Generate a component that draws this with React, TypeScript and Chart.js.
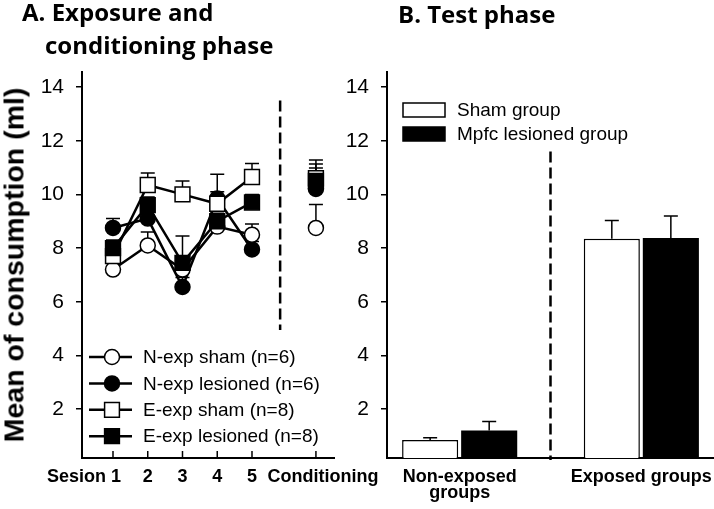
import React, { useEffect, useRef } from "react";
import { Chart, registerables } from "chart.js";
Chart.register(...registerables);

const ARIAL = '"Liberation Sans", Arial, sans-serif';
const TITLE_FONT = '"Open Sans", Lato, sans-serif';

// ---------- Panel A data ----------
const sessionPositions = [1, 2, 3, 4, 5];
const conditioningPosition = 6.84;
const panelATickPositions = [1, 2, 3, 4, 5, 6.84];
const panelATickLabels = ["Sesion 1", "2", "3", "4", "5", "Conditioning"];
const yTickValues = [2, 4, 6, 8, 10, 12, 14];
const yMin = 0.18;
const yMax = 14.56;

const groupLabels = [
  "N-exp sham (n=6)",
  "N-exp lesioned (n=6)",
  "E-exp sham (n=8)",
  "E-exp lesioned (n=8)",
];
const nExpShamMeans = [7.2, 8.1, 7.2, 8.8, 8.5];
const nExpShamSem = [0.25, 0.5, 0.3, 0.25, 0.4];
const nExpLesionedMeans = [8.75, 9.1, 6.55, 9.85, 7.95];
const nExpLesionedSem = [0.35, 0.3, 0.35, 0.25, 0.3];
const eExpShamMeans = [7.7, 10.35, 10.0, 9.65, 10.65];
const eExpShamSem = [0.3, 0.45, 0.5, 1.1, 0.5];
const eExpLesionedMeans = [8.0, 9.6, 7.45, 9.0, 9.7];
const eExpLesionedSem = [0.3, 0.3, 1.0, 0.3, 0.3];
// conditioning values, in groupLabels order
const conditioningMeans = [8.75, 10.2, 10.6, 10.5];
const conditioningSem = [0.87, 0.78, 0.68, 0.63];
const panelADividerX = 5.81;
const panelADividerRange = [4.95, 13.5];

// ---------- Panel B data ----------
const testPositions = [0, 1];
const testLabels = [["Non-exposed", "groups"], ["Exposed groups"]];
const testSeriesLabels = ["Sham group", "Mpfc lesioned group"];
const shamMeans = [0.85, 8.35];
const shamSem = [0.08, 0.68];
const lesionedMeans = [1.2, 8.38];
const lesionedSem = [0.34, 0.82];
const panelBDividerX = 0.5;
const panelBDividerTop = 11.6;

type Group = {
  label: string;
  means: number[];
  sem: number[];
  cond: number;
  condSem: number;
  style: "circle" | "rect";
  fill: string;
};

const groups: Group[] = [
  { label: groupLabels[0], means: nExpShamMeans, sem: nExpShamSem, cond: conditioningMeans[0], condSem: conditioningSem[0], style: "circle", fill: "#ffffff" },
  { label: groupLabels[1], means: nExpLesionedMeans, sem: nExpLesionedSem, cond: conditioningMeans[1], condSem: conditioningSem[1], style: "circle", fill: "#000000" },
  { label: groupLabels[2], means: eExpShamMeans, sem: eExpShamSem, cond: conditioningMeans[2], condSem: conditioningSem[2], style: "rect", fill: "#ffffff" },
  { label: groupLabels[3], means: eExpLesionedMeans, sem: eExpLesionedSem, cond: conditioningMeans[3], condSem: conditioningSem[3], style: "rect", fill: "#000000" },
];
// drawing order: top-most first
const drawOrder = [3, 2, 0, 1];
const condDrawOrder = [1, 3, 2, 0];

const radiusFor = (s: string) => (s === "circle" ? 7.5 : 10.5);

function errorBar(ctx: CanvasRenderingContext2D, x: number, y0: number, y1: number, cap: number) {
  ctx.beginPath();
  ctx.moveTo(x, y0);
  ctx.lineTo(x, y1);
  ctx.moveTo(x - cap / 2, y1);
  ctx.lineTo(x + cap / 2, y1);
  ctx.stroke();
}

function dashed(ctx: CanvasRenderingContext2D, x: number, y0: number, y1: number) {
  ctx.save();
  ctx.strokeStyle = "#000";
  ctx.lineWidth = 2.5;
  ctx.setLineDash([11, 5]);
  ctx.beginPath();
  ctx.moveTo(x, y0);
  ctx.lineTo(x, y1);
  ctx.stroke();
  ctx.restore();
}

const yAxisCommon = (width: number) => ({
  type: "linear" as const,
  min: yMin,
  max: yMax,
  beginAtZero: false,
  afterFit: (s: any) => {
    s.width = width;
  },
  afterBuildTicks: (s: any) => {
    s.ticks = yTickValues.map((v) => ({ value: v }));
  },
  grid: { drawOnChartArea: false, drawTicks: true, tickLength: 6, color: "#000", lineWidth: 1.5 },
  border: { display: true, color: "#000", width: 2 },
  ticks: { color: "#000", font: { family: ARIAL, size: 21 }, padding: 12 },
});

function PanelA() {
  const ref = useRef<HTMLCanvasElement>(null);
  useEffect(() => {
    const datasets: any[] = [];
    drawOrder.forEach((gi) => {
      const g = groups[gi];
      datasets.push({
        label: g.label,
        data: sessionPositions.map((x, i) => ({ x, y: g.means[i] })),
        showLine: true,
        borderColor: "#000",
        borderWidth: 2.5,
        pointStyle: g.style,
        pointRadius: radiusFor(g.style),
        pointBackgroundColor: g.fill,
        pointBorderColor: "#000",
        pointBorderWidth: 1.5,
        clip: false,
      });
    });
    condDrawOrder.forEach((gi) => {
      const g = groups[gi];
      datasets.push({
        label: g.label + " conditioning",
        data: [{ x: conditioningPosition, y: g.cond }],
        showLine: false,
        pointStyle: g.style,
        pointRadius: radiusFor(g.style),
        pointBackgroundColor: g.fill,
        pointBorderColor: "#000",
        pointBorderWidth: 1.5,
        clip: false,
      });
    });

    const decor = {
      id: "decorA",
      beforeDatasetsDraw(chart: any) {
        const { ctx, scales } = chart;
        const x = scales.x;
        const y = scales.y;
        ctx.save();
        ctx.strokeStyle = "#000";
        ctx.lineWidth = 1.5;
        groups.forEach((g) => {
          g.means.forEach((m, i) => {
            errorBar(ctx, x.getPixelForValue(sessionPositions[i]), y.getPixelForValue(m), y.getPixelForValue(m + g.sem[i]), 14);
          });
          errorBar(ctx, x.getPixelForValue(conditioningPosition), y.getPixelForValue(g.cond), y.getPixelForValue(g.cond + g.condSem), 14);
        });
        ctx.restore();
        dashed(ctx, x.getPixelForValue(panelADividerX), y.getPixelForValue(panelADividerRange[1]), y.getPixelForValue(panelADividerRange[0]));
      },
      afterDraw(chart: any) {
        const { ctx, scales, chartArea } = chart;
        const x = scales.x;
        ctx.save();
        // inner tick marks on x axis
        ctx.strokeStyle = "#000";
        ctx.lineWidth = 1.5;
        panelATickPositions.forEach((p) => {
          const px = x.getPixelForValue(p);
          ctx.beginPath();
          ctx.moveTo(px, chartArea.bottom);
          ctx.lineTo(px, chartArea.bottom - 7);
          ctx.stroke();
        });
        // x labels
        ctx.fillStyle = "#000";
        ctx.font = `bold 18px ${ARIAL}`;
        ctx.textBaseline = "alphabetic";
        panelATickLabels.forEach((lab, i) => {
          const px = x.getPixelForValue(panelATickPositions[i]);
          if (i === 0) {
            const last = ctx.measureText(lab.slice(-1)).width;
            ctx.textAlign = "right";
            ctx.fillText(lab, px + last / 2 + 3, chartArea.bottom + 24);
          } else {
            ctx.textAlign = "center";
            ctx.fillText(lab, px + (i === panelATickLabels.length - 1 ? 7 : 0), chartArea.bottom + 24);
          }
        });
        // legend
        ctx.font = `19px ${ARIAL}`;
        ctx.textAlign = "left";
        ctx.textBaseline = "middle";
        const lx0 = chartArea.left + 7;
        const lx1 = chartArea.left + 50;
        const mx = chartArea.left + 30;
        groups.forEach((g, i) => {
          const ly = 357 + i * 26.4;
          ctx.strokeStyle = "#000";
          ctx.lineWidth = 2.5;
          ctx.beginPath();
          ctx.moveTo(lx0, ly);
          ctx.lineTo(lx1, ly);
          ctx.stroke();
          ctx.fillStyle = g.fill;
          ctx.lineWidth = 1.5;
          ctx.beginPath();
          if (g.style === "circle") {
            ctx.arc(mx, ly, 7.5, 0, Math.PI * 2);
          } else {
            ctx.rect(mx - 7.4, ly - 7.4, 14.8, 14.8);
          }
          ctx.fill();
          ctx.stroke();
          ctx.fillStyle = "#000";
          ctx.fillText(g.label, chartArea.left + 61, ly + 1);
        });
        ctx.restore();
      },
    };

    const chart = new Chart(ref.current!, {
      type: "scatter",
      data: { datasets },
      options: {
        animation: false,
        responsive: false,
        layout: { padding: { left: 0, right: 56, top: 72, bottom: 0 } },
        plugins: { legend: { display: false }, tooltip: { enabled: false } },
        scales: {
          x: {
            type: "linear",
            min: 0.108,
            max: 7.36,
            afterFit: (s: any) => {
              s.height = 51;
            },
            afterBuildTicks: (s: any) => {
              s.ticks = panelATickPositions.map((v) => ({ value: v }));
            },
            grid: { display: false },
            border: { display: true, color: "#000", width: 2 },
            ticks: { display: false },
          },
          y: yAxisCommon(82),
        },
      } as any,
      plugins: [decor],
    });
    return () => chart.destroy();
  }, []);
  return <canvas ref={ref} width={390} height={509} style={{ position: "absolute", left: 0, top: 0, width: 390, height: 509 }} />;
}

function PanelB() {
  const ref = useRef<HTMLCanvasElement>(null);
  useEffect(() => {
    const decor = {
      id: "decorB",
      afterDatasetsDraw(chart: any) {
        const { ctx, scales } = chart;
        const y = scales.y;
        ctx.save();
        ctx.strokeStyle = "#000";
        ctx.lineWidth = 1.5;
        const sems = [shamSem, lesionedSem];
        const means = [shamMeans, lesionedMeans];
        [0, 1].forEach((di) => {
          const meta = chart.getDatasetMeta(di);
          meta.data.forEach((bar: any, i: number) => {
            errorBar(ctx, bar.x, y.getPixelForValue(means[di][i]), y.getPixelForValue(means[di][i] + sems[di][i]), 14);
          });
        });
        ctx.restore();
      },
      afterDraw(chart: any) {
        const { ctx, scales, chartArea } = chart;
        const x = scales.x;
        const y = scales.y;
        dashed(ctx, x.getPixelForValue(panelBDividerX), y.getPixelForValue(panelBDividerTop), chartArea.bottom + 2);
        ctx.save();
        ctx.fillStyle = "#000";
        ctx.font = `bold 18px ${ARIAL}`;
        ctx.textAlign = "center";
        ctx.textBaseline = "alphabetic";
        testLabels.forEach((lines, i) => {
          const px = x.getPixelForValue(testPositions[i]);
          lines.forEach((ln, j) => ctx.fillText(ln, px, chartArea.bottom + 24 + j * 16));
        });
        // legend
        ctx.font = `19px ${ARIAL}`;
        ctx.textAlign = "left";
        ctx.textBaseline = "middle";
        const fills = ["#ffffff", "#000000"];
        testSeriesLabels.forEach((lab, i) => {
          const ly = 110 + i * 24;
          ctx.fillStyle = fills[i];
          ctx.strokeStyle = "#000";
          ctx.lineWidth = 1.5;
          ctx.fillRect(chartArea.left + 16, ly - 7, 42, 14);
          ctx.strokeRect(chartArea.left + 16, ly - 7, 42, 14);
          ctx.fillStyle = "#000";
          ctx.fillText(lab, chartArea.left + 70, ly + 1);
        });
        ctx.restore();
      },
    };

    const chart = new Chart(ref.current!, {
      type: "bar",
      data: {
        datasets: [
          {
            label: testSeriesLabels[0],
            data: testPositions.map((x, i) => ({ x, y: shamMeans[i] })),
            backgroundColor: "#ffffff",
            borderColor: "#000",
            borderWidth: 1.5,
            borderSkipped: "bottom",
            categoryPercentage: 0.65,
            barPercentage: 0.95,
            clip: 0,
          },
          {
            label: testSeriesLabels[1],
            data: testPositions.map((x, i) => ({ x, y: lesionedMeans[i] })),
            backgroundColor: "#000000",
            borderColor: "#000",
            borderWidth: 0,
            categoryPercentage: 0.65,
            barPercentage: 0.95,
            clip: 0,
          },
        ],
      },
      options: {
        animation: false,
        responsive: false,
        layout: { padding: { left: 0, right: 0, top: 72, bottom: 0 } },
        plugins: { legend: { display: false }, tooltip: { enabled: false } },
        scales: {
          x: {
            type: "linear",
            min: -0.4,
            max: 1.4,
            offset: false,
            afterFit: (s: any) => {
              s.height = 51;
            },
            afterBuildTicks: (s: any) => {
              s.ticks = testPositions.map((v) => ({ value: v }));
            },
            grid: { display: false },
            border: { display: true, color: "#000", width: 2 },
            ticks: { display: false },
          },
          y: yAxisCommon(47),
        },
      } as any,
      plugins: [decor],
    });
    return () => chart.destroy();
  }, []);
  return <canvas ref={ref} width={374} height={509} style={{ position: "absolute", left: 340, top: 0, width: 374, height: 509 }} />;
}

const titleStyle: React.CSSProperties = {
  position: "absolute",
  fontFamily: TITLE_FONT,
  fontWeight: 700,
  fontSize: 24,
  lineHeight: "24px",
  whiteSpace: "nowrap",
  color: "#000",
};

export default function App() {
  return (
    <div style={{ position: "fixed", left: 0, top: 0, width: 714, height: 509, background: "#fff", overflow: "hidden" }}>
      <PanelA />
      <PanelB />
      <div style={{ ...titleStyle, left: 22, top: 0 }}>A. Exposure and</div>
      <div style={{ ...titleStyle, left: 45, top: 33 }}>conditioning phase</div>
      <div style={{ ...titleStyle, left: 398, top: 2 }}>B. Test phase</div>
      <div
        style={{
          position: "absolute",
          left: 14,
          top: 265,
          transform: "translate(-50%, -50%) rotate(-90deg)",
          fontFamily: ARIAL,
          fontWeight: 700,
          fontSize: 28.5,
          whiteSpace: "nowrap",
          color: "#000",
        }}
      >
        Mean of consumption (ml)
      </div>
    </div>
  );
}
